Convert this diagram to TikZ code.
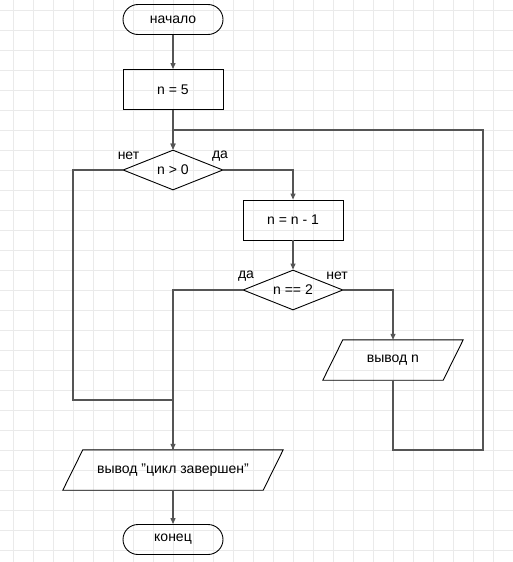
\documentclass[tikz,border=0pt]{standalone}
\usepackage{fontspec}
\setmainfont{Liberation Sans}
\usetikzlibrary{shapes.geometric,arrows.meta,calc}
\definecolor{gridc}{HTML}{EAEAEA}
\definecolor{linec}{HTML}{555555}
\begin{document}
\begin{tikzpicture}[x=1pt,y=-1pt,
  every node/.style={font=\fontsize{14}{16}\selectfont},
  term/.style={draw=black,line width=0.9pt,rectangle,rounded corners=15pt,minimum width=100pt,minimum height=30pt,inner sep=0pt},
  proc/.style={draw=black,line width=0.9pt,rectangle,minimum width=100pt,minimum height=40pt,inner sep=0pt},
  dec/.style={draw=black,line width=0.9pt,diamond,aspect=2.5,minimum width=100pt,minimum height=40pt,inner sep=0pt},
  iobox/.style={rectangle,minimum height=40pt,inner sep=0pt},
  para/.style={draw=black,line width=0.9pt},
  conn/.style={draw=linec,line width=1.2pt},
  arr/.style={conn,-{Triangle[length=6pt,width=5pt]}},
  lbl/.style={inner sep=0pt}]
\useasboundingbox (0,0) rectangle (513,562);
\fill[white] (0,0) rectangle (513,562);
\foreach \i in {0,...,25} {\draw[gridc,line width=0.8pt] (13+20*\i,0) -- (13+20*\i,562);}
\foreach \j in {0,...,27} {\draw[gridc,line width=0.8pt] (0,10+20*\j) -- (513,10+20*\j);}

\node[term] (start) at (173,19.5) {начало};
\node[proc] (n5) at (173,89.5) {n = 5};
\node[dec] (d1) at (173,170) {n > 0};
\node[proc] (dec1) at (293,220) {n = n - 1};
\node[dec] (d2) at (293,290) {n == 2};
\node[iobox,minimum width=120pt] (outn) at (393,360) {вывод n};
\node[iobox,minimum width=200pt] (outend) at (173,470) {вывод \char34цикл завершен\char34};
\node[term] (finish) at (173,539.5) {конец};

\draw[para] ($(outn.north west)+(10,0)$) -- ($(outn.north east)+(10,0)$) -- ($(outn.south east)+(-10,0)$) -- ($(outn.south west)+(-10,0)$) -- cycle;
\draw[para] ($(outend.north west)+(10,0)$) -- ($(outend.north east)+(10,0)$) -- ($(outend.south east)+(-10,0)$) -- ($(outend.south west)+(-10,0)$) -- cycle;

\node[lbl] (l1) at (128.5,156) {нет};
\node[lbl] (l2) at (220,156) {да};
\node[lbl] (l3) at (246,276) {да};
\node[lbl] (l4) at (337,276) {нет};

\coordinate (cL) at (73,400);
\coordinate (cB) at (483,450);
\coordinate (cT) at (483,130);

\draw[arr] (start) -- (n5);
\draw[arr] (n5) -- (d1);
\draw[arr] (d1.east) -| (dec1);
\draw[arr] (dec1) -- (d2);
\draw[arr] (d2.east) -| (outn);
\draw[arr] (d2.west) -| (outend);
\draw[conn] (d1.west) -| (cL) -| (outend.north);
\draw[arr] (outn.south) |- (cB) -- (cT) -| (d1.north);
\draw[arr] (outend) -- (finish);
\end{tikzpicture}
\end{document}
